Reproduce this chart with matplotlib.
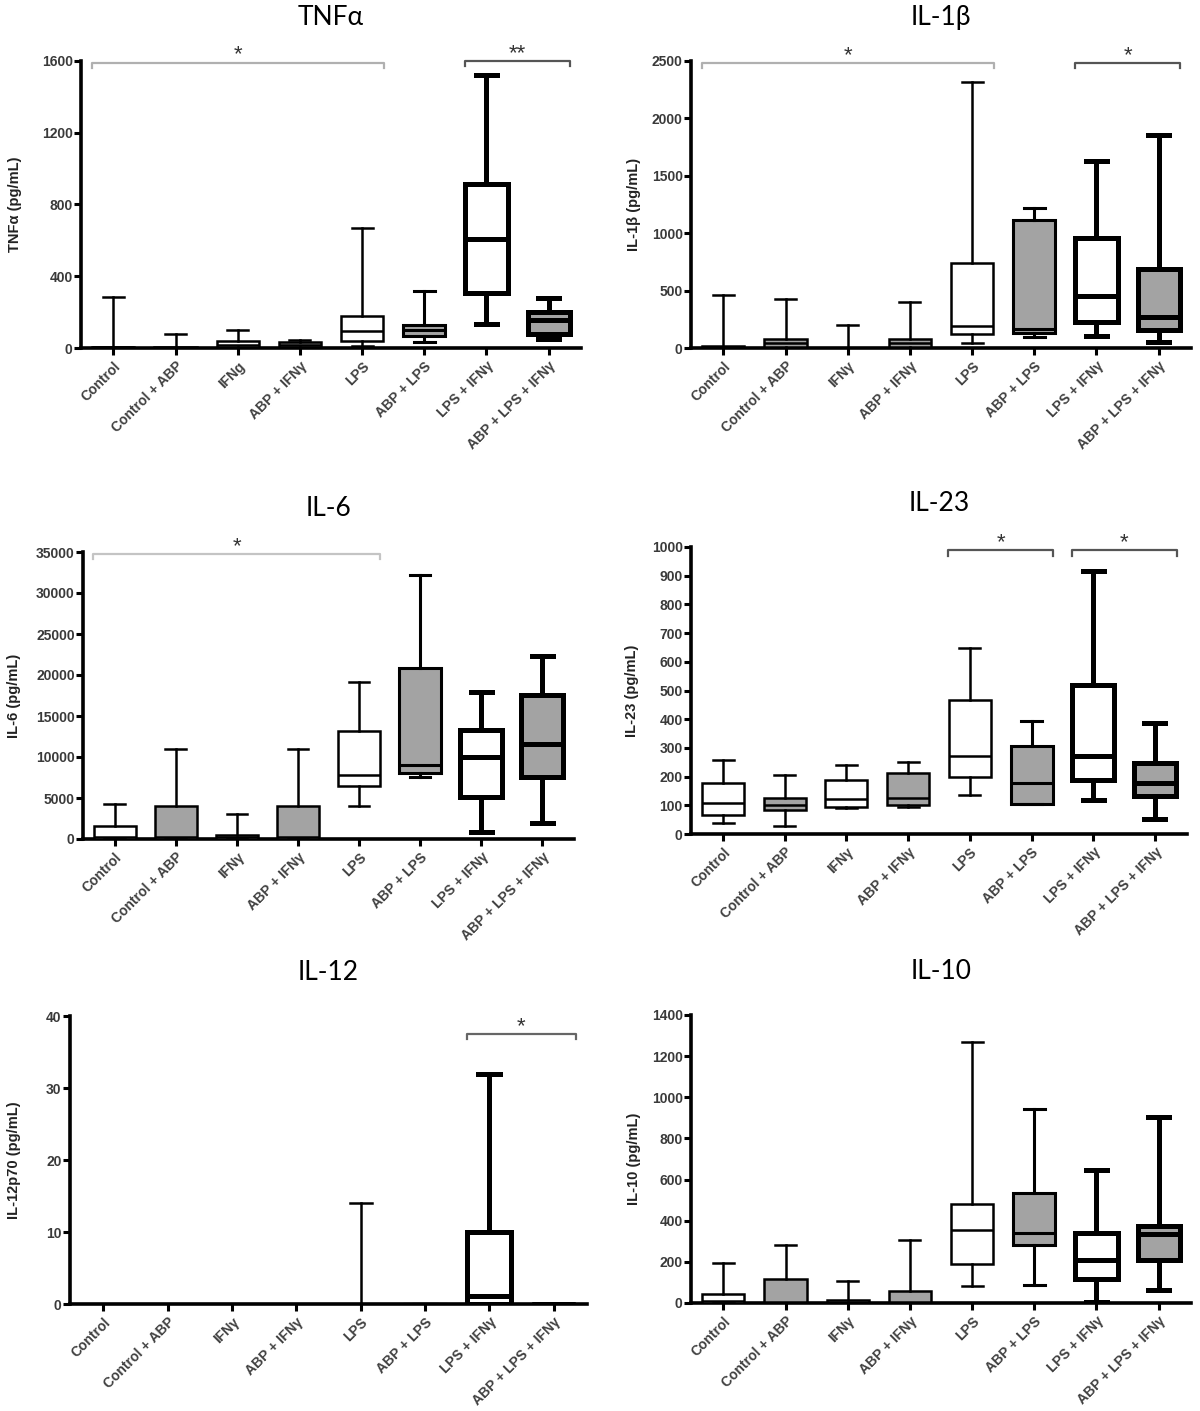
import matplotlib
matplotlib.use("Agg")
import matplotlib.pyplot as plt

plt.rcParams['font.family'] = ['Liberation Sans', 'DejaVu Sans']

groups_tnf = ["Control", "Control + ABP", "IFNg", "ABP + IFNγ", "LPS", "ABP + LPS", "LPS + IFNγ", "ABP + LPS + IFNγ"]
groups = ["Control", "Control + ABP", "IFNγ", "ABP + IFNγ", "LPS", "ABP + LPS", "LPS + IFNγ", "ABP + LPS + IFNγ"]

# each: whislo, q1, med, q3, whishi per group
tnf_lo  = [0, 0, 0, 0, 10, 31, 135, 50]
tnf_q1  = [0, 0, 5, 5, 37, 68, 309, 80]
tnf_med = [3, 1, 15, 15, 96, 102, 610, 157]
tnf_q3  = [8, 3, 37, 31, 176, 130, 912, 198]
tnf_hi  = [283, 78, 102, 46, 670, 318, 1522, 277]

il1_lo  = [0, 0, 0, 0, 43, 93, 107, 49]
il1_q1  = [0, 5, 0, 5, 122, 130, 226, 154]
il1_med = [5, 40, 0, 40, 188, 165, 449, 270]
il1_q3  = [15, 81, 2, 81, 739, 1115, 956, 689]
il1_hi  = [463, 426, 203, 405, 2318, 1217, 1631, 1854]

il6_lo  = [0, 0, 0, 0, 4060, 7540, 850, 1950]
il6_q1  = [0, 0, 0, 0, 6410, 8030, 5110, 7620]
il6_med = [300, 200, 200, 200, 7830, 9040, 10060, 11560]
il6_q3  = [1620, 4060, 530, 3980, 13180, 20800, 13300, 17560]
il6_hi  = [4300, 11000, 3040, 11000, 19140, 32160, 17890, 22300]

il23_lo  = [38, 29, 90, 94, 137, 105, 117, 52]
il23_q1  = [67, 85, 94, 100, 200, 105, 187, 131]
il23_med = [108, 102, 122, 127, 272, 177, 272, 177]
il23_q3  = [177, 127, 189, 212, 467, 305, 519, 247]
il23_hi  = [258, 206, 241, 250, 647, 395, 915, 386]

il12_lo  = [0, 0, 0, 0, 0, 0, 0, 0]
il12_q1  = [0, 0, 0, 0, 0, 0, 0, 0]
il12_med = [0, 0, 0, 0, 0, 0, 1.1, 0]
il12_q3  = [0, 0, 0, 0, 0, 0, 9.95, 0]
il12_hi  = [0, 0, 0, 0, 14.0, 0, 31.9, 0]

il10_lo  = [0, 0, 0, 0, 81, 86, 5, 65]
il10_q1  = [0, 0, 0, 0, 191, 281, 118, 211]
il10_med = [10, 5, 5, 5, 357, 342, 208, 337]
il10_q3  = [45, 118, 13, 58, 480, 535, 342, 375]
il10_hi  = [196, 284, 105, 305, 1270, 941, 646, 905]

panels = [
    dict(title="TNFα", ylabel="TNFα (pg/mL)", labels=groups_tnf, ymax=1600, yticks=[0, 400, 800, 1200, 1600],
         data=(tnf_lo, tnf_q1, tnf_med, tnf_q3, tnf_hi),
         sig=[(0, 4, "*", "#b0b0b0", 0.994), (6, 7, "**", "#555555", 1.0)],
         rect=(81, 61, 581, 348), ylx=22),
    dict(title="IL-1β", ylabel="IL-1β (pg/mL)", labels=groups, ymax=2500, yticks=list(range(0, 2501, 500)),
         data=(il1_lo, il1_q1, il1_med, il1_q3, il1_hi),
         sig=[(0, 4, "*", "#b0b0b0", 0.993), (6, 7, "*", "#555555", 0.993)],
         rect=(691, 61, 1191, 348), ylx=641),
    dict(title="IL-6", ylabel="IL-6 (pg/mL)", labels=groups, ymax=35000, yticks=list(range(0, 35001, 5000)),
         data=(il6_lo, il6_q1, il6_med, il6_q3, il6_hi),
         sig=[(0, 4, "*", "#c4c4c4", 0.993)],
         rect=(83, 552, 574, 839), ylx=21),
    dict(title="IL-23", ylabel="IL-23 (pg/mL)", labels=groups, ymax=1000, yticks=list(range(0, 1001, 100)),
         data=(il23_lo, il23_q1, il23_med, il23_q3, il23_hi),
         sig=[(4, 5, "*", "#555555", 0.988), (6, 7, "*", "#555555", 0.988)],
         rect=(691, 547, 1187, 834), ylx=639),
    dict(title="IL-12", ylabel="IL-12p70 (pg/mL)", labels=groups, ymax=40, yticks=[0, 10, 20, 30, 40],
         data=(il12_lo, il12_q1, il12_med, il12_q3, il12_hi),
         sig=[(6, 7, "*", "#666666", 0.937)],
         rect=(70, 1016, 587, 1304), ylx=21),
    dict(title="IL-10", ylabel="IL-10 (pg/mL)", labels=groups, ymax=1400, yticks=list(range(0, 1401, 200)),
         data=(il10_lo, il10_q1, il10_med, il10_q3, il10_hi),
         sig=[],
         rect=(691, 1015, 1191, 1303), ylx=641),
]

fills = ["white", "#a3a3a3", "white", "#a3a3a3", "white", "#a3a3a3", "white", "#a3a3a3"]
lws = [1.8, 1.8, 1.8, 1.8, 1.8, 2.2, 3.6, 3.6]
W, H = 1200, 1411
fig = plt.figure(figsize=(W / 100, H / 100), dpi=100)

for p in panels:
    x0, y0, x1, y1 = p["rect"]
    ax = fig.add_axes([x0 / W, 1 - y1 / H, (x1 - x0) / W, (y1 - y0) / H])
    lo, q1, med, q3, hi = p["data"]
    n = len(p["labels"])
    for i in range(n):
        st = [dict(whislo=lo[i], q1=q1[i], med=med[i], q3=q3[i], whishi=hi[i], fliers=[])]
        lw = lws[i]
        ax.bxp(st, positions=[i], widths=0.68, capwidths=0.34, patch_artist=True, showfliers=False,
               boxprops=dict(facecolor=fills[i], edgecolor="black", linewidth=lw),
               medianprops=dict(color="black", linewidth=lw),
               whiskerprops=dict(color="black", linewidth=lw),
               capprops=dict(color="black", linewidth=lw), manage_ticks=False, zorder=3)
    ax.set_xlim(-0.52, n - 0.48)
    ax.set_ylim(0, p["ymax"])
    ax.set_yticks(p["yticks"])
    ax.set_yticklabels([str(t) for t in p["yticks"]], fontsize=10, fontweight="bold", color="#3a3a3a")
    ax.set_xticks(range(n))
    ax.set_xticklabels(p["labels"], rotation=45, ha="right", rotation_mode="anchor",
                       fontsize=10, fontweight="bold", color="#404040")
    for s in ["top", "right"]:
        ax.spines[s].set_visible(False)
    for s in ["left", "bottom"]:
        ax.spines[s].set_linewidth(2.6)
    ax.tick_params(axis="both", width=2.2, length=5, direction="out", color="black")
    ax.tick_params(axis="x", pad=3)
    ax.tick_params(axis="y", pad=1)
    ax.set_ylabel(p["ylabel"], fontsize=10.5, fontweight="bold", color="#222222")
    ax.yaxis.set_label_coords((p["ylx"] - x0) / (x1 - x0), 0.5)
    ax.set_title(p["title"], fontsize=19, family=["Lato", "DejaVu Sans"], pad=26)
    ym = p["ymax"]
    for a, b, txt, col, frac in p["sig"]:
        yb = ym * frac
        ytick = yb - ym * 0.018
        xa, xb = a - 0.35, b + 0.35
        ax.plot([xa, xa, xb, xb], [ytick, yb, yb, ytick], color=col, lw=1.6, clip_on=False, zorder=4)
        ax.annotate(txt, xy=((xa + xb) / 2, yb), xytext=(0, -2), textcoords="offset points",
                    ha="center", va="bottom", fontsize=16, color="#333333", annotation_clip=False)

fig.savefig("out.png", dpi=100)
